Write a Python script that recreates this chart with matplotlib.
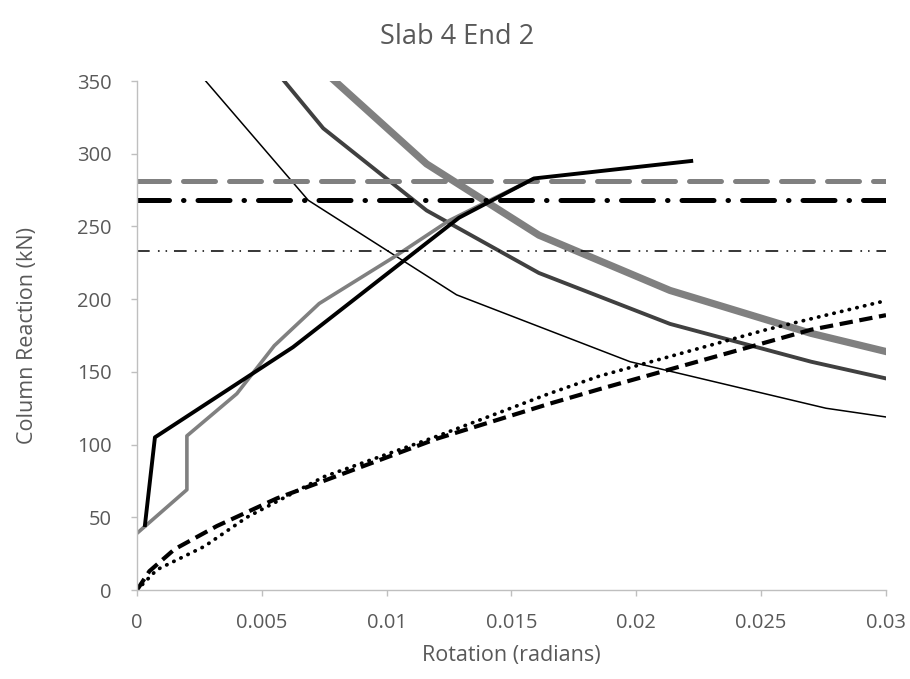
import numpy as np
import matplotlib.pyplot as plt

plt.rcParams['font.family'] = ['Open Sans', 'DejaVu Sans']

# rising curves
rot_black = [0.00032, 0.00072, 0.00625, 0.0129, 0.0159, 0.0222]
rx_black = [44.7, 105, 167, 256, 283, 295]
rot_gray = [0.0, 0.002, 0.002, 0.004, 0.0055, 0.0073, 0.0103, 0.0125, 0.0139, 0.0158]
rx_gray = [39, 69, 106, 135, 168, 197, 229, 254, 266, 282]
rot_dot = [0.0, 0.0008, 0.0027, 0.0044, 0.0075, 0.0119, 0.0165, 0.0185, 0.0252, 0.03]
rx_dot = [0, 14, 30, 50, 78, 105, 135, 147, 179, 199]
rot_dash = [0.0, 0.0005, 0.0015, 0.0032, 0.0056, 0.012, 0.0165, 0.0185, 0.027, 0.03]
rx_dash = [0, 13, 28, 44, 63, 104, 128, 138, 179, 189]

# decreasing curves
rot_thin = [0.0012, 0.00686, 0.0128, 0.01975, 0.0276, 0.03]
rx_thin = [381, 268, 203, 157, 125, 119]
rot_dark = [0.0045, 0.00746, 0.0116, 0.0161, 0.02135, 0.027, 0.03]
rx_dark = [379, 317.5, 261, 218, 183, 157, 145.5]
rot_thick = [0.005, 0.00786, 0.0116, 0.0161, 0.02135, 0.027, 0.03]
rx_thick = [394, 351, 293, 244, 206, 176.5, 164]

# horizontal capacity lines
cap_gray = 281
cap_black = 268
cap_thin = 233

xlim = [0, 0.03]
xticks = [0, 0.005, 0.01, 0.015, 0.02, 0.025, 0.03]
xticklabels = ['0', '0.005', '0.01', '0.015', '0.02', '0.025', '0.03']

fig, ax = plt.subplots(figsize=(9.1, 6.79), dpi=100)
fig.subplots_adjust(left=0.1505, right=0.9736, bottom=0.131, top=0.8807)

ax.plot(rot_thick, rx_thick, color='#808080', lw=5.2, solid_joinstyle='round')
ax.plot(rot_dark, rx_dark, color='#404040', lw=2.8, solid_joinstyle='round')
ax.plot(rot_thin, rx_thin, color='black', lw=1.1)
ax.plot(rot_dot, rx_dot, color='black', lw=2.7, linestyle=(0, (0.1, 2.0)),
        dash_capstyle='round')
ax.plot(rot_dash, rx_dash, color='black', lw=3.0, linestyle=(0, (3.2, 1.6)))
ax.plot(rot_gray, rx_gray, color='#808080', lw=2.6)

ax.plot(xlim, [cap_gray, cap_gray], color='#808080', lw=3.6,
        linestyle=(0, (6.4, 2.8)), dash_capstyle='round')
ax.plot(xlim, [cap_black, cap_black], color='black', lw=3.6,
        linestyle=(0, (6.4, 2.8, 0.1, 2.8)), dash_capstyle='round')
ax.plot(xlim, [cap_thin, cap_thin], color='black', lw=1.1,
        linestyle=(0, (8.3, 5.4, 1.1, 3.9, 1.0, 4.5)))

ax.plot(rot_black, rx_black, color='black', lw=2.8)

ax.set_xlim(xlim)
ax.set_ylim(0, 350)
ax.set_xticks(xticks)
ax.set_xticklabels(xticklabels)
ax.set_yticks(np.arange(0, 351, 50))

for s in ['top', 'right']:
    ax.spines[s].set_visible(False)
for s in ['left', 'bottom']:
    ax.spines[s].set_color('#bfbfbf')
    ax.spines[s].set_linewidth(1.0)
ax.tick_params(colors='#bfbfbf', labelcolor='#595959', labelsize=14.5,
               length=4, width=1.0)
ax.tick_params(axis='y', pad=14)
ax.tick_params(axis='x', pad=12.5)

fig.suptitle('Slab 4 End 2', x=0.502, y=0.945, va='center', fontsize=19.5,
             color='#595959')
ax.set_xlabel('Rotation (radians)', fontsize=15.5, color='#595959', labelpad=9)
ax.set_ylabel('Column Reaction (kN)', fontsize=15.5, color='#595959', labelpad=28)

plt.savefig('out.png', dpi=100)
